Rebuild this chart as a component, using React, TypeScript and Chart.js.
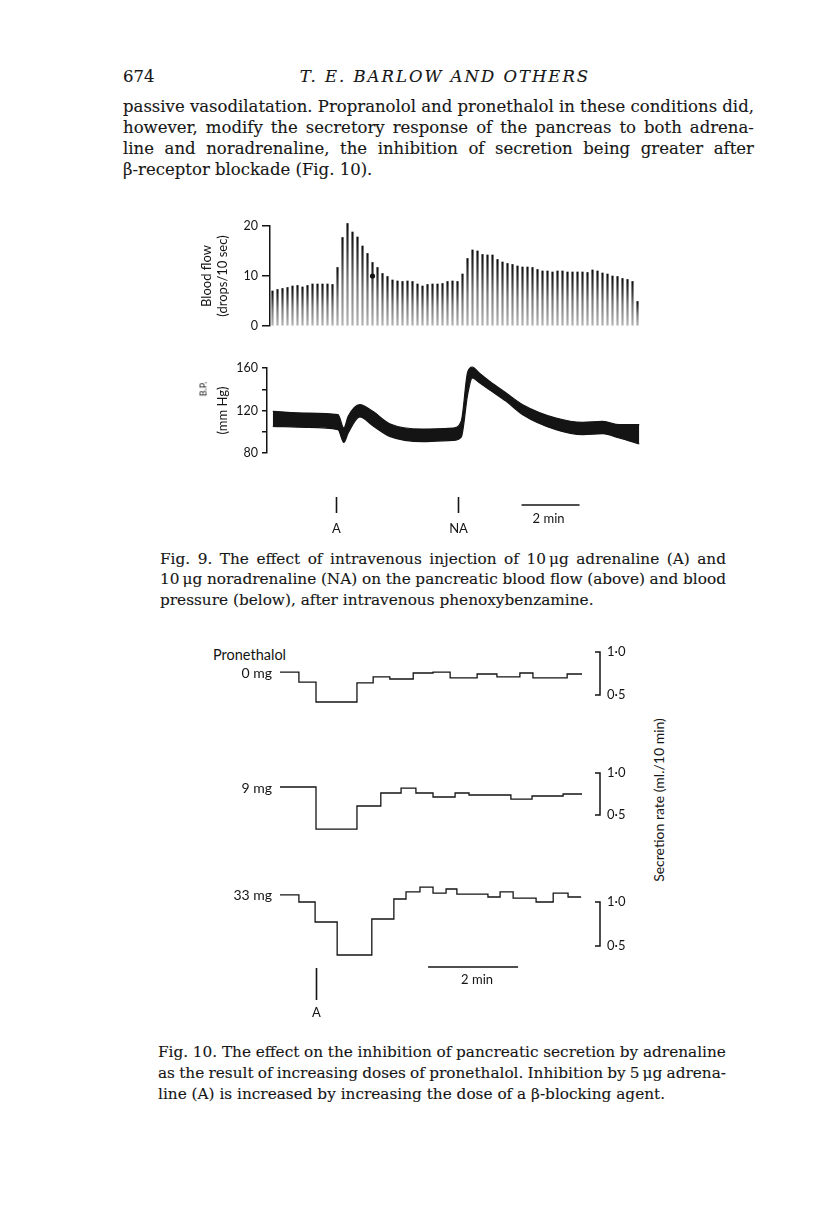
import React, { useEffect, useRef } from 'react';
import { Chart, registerables } from 'chart.js';

Chart.register(...registerables);

const INK = '#141414';
const SERIF = '"DejaVu Serif", "Liberation Serif", serif';
const SANS = 'Lato, "Open Sans", sans-serif';

// ---------------- Fig. 9 : blood flow (drops / 10 sec), one value per drop-counter stroke
const FLOW_VALUES = [
  7.0, 7.3, 7.5, 7.7, 8.0, 8.1, 7.8, 8.1, 8.4, 8.4,
  8.4, 8.4, 8.3, 11.7, 17.7, 20.5, 18.8, 17.8, 16.0, 14.5,
  12.7, 11.7, 10.5, 9.9, 9.2, 9.0, 8.9, 9.0, 8.9, 8.4,
  8.0, 8.3, 8.4, 8.4, 8.5, 8.9, 9.0, 8.9, 10.4, 13.5,
  15.2, 15.0, 14.3, 14.2, 14.2, 13.3, 12.8, 12.5, 12.3, 12.0,
  11.8, 11.8, 11.7, 11.3, 11.0, 11.0, 10.8, 11.0, 11.0, 10.8,
  10.8, 10.8, 10.8, 10.7, 11.2, 11.0, 10.6, 10.4, 10.0, 9.9,
  9.5, 9.3, 8.9, 4.9,
];
const FLOW_DOT = [{ x: 20, y: 10 }];
const FLOW_TICKS = [0, 10, 20];

// ---------------- Fig. 9 : blood pressure envelope (mm Hg) vs time (min)
const BP_TIME = [0, 1.16, 2.25, 2.45, 2.6, 3.0, 3.45, 4.03, 5.18, 6.21, 6.5, 6.72, 6.88, 7.13, 7.5, 8.05, 8.62, 9.77, 10.69, 11.38, 11.95, 12.64];
const BP_UPPER = [119.2, 117.6, 116.1, 103.5, 114.5, 125.5, 119.2, 107.6, 102.6, 103.5, 110.0, 156.0, 160.9, 155.0, 147.0, 136.5, 125.5, 112.9, 108.9, 109.8, 106.7, 106.7];
const BP_LOWER = [105.1, 104.2, 102.0, 90.0, 98.8, 114.0, 105.7, 95.7, 90.7, 91.9, 95.0, 135.0, 150.6, 146.0, 139.0, 128.6, 116.1, 102.0, 97.3, 98.2, 94.1, 88.5];
const BP_TICKS = [80, 100, 120, 140, 160];
const BP_TICK_LABELS = ['80', '', '120', '', '160'];
const FIG9_INJECTION_TIMES = [2.18, 6.4];
const FIG9_INJECTION_LABELS = ['A', 'NA'];
const FIG9_SCALE_BAR = [8.58, 10.58];

// ---------------- Fig. 10 : secretion rate (ml./10 min), stepped, vs time (min)
const F10_TIME_0 = [0, 0.42, 0.8, 1.71, 2.07, 2.44, 2.96, 3.4, 3.78, 4.38, 4.82, 5.33, 5.62, 6.38, 6.71];
const F10_RATE_0 = [0.767, 0.651, 0.419, 0.64, 0.71, 0.686, 0.756, 0.767, 0.70, 0.744, 0.71, 0.756, 0.70, 0.744, 0.744];
const F10_TIME_9 = [0, 0.8, 1.71, 2.24, 2.69, 3.02, 3.4, 3.89, 4.2, 5.13, 5.6, 6.29, 6.71];
const F10_RATE_9 = [0.833, 0.333, 0.607, 0.762, 0.82, 0.762, 0.714, 0.762, 0.738, 0.69, 0.726, 0.75, 0.75];
const F10_TIME_33 = [0, 0.42, 0.78, 1.27, 2.04, 2.53, 2.8, 3.11, 3.4, 3.69, 3.93, 4.62, 4.89, 5.18, 5.69, 6.07, 6.4, 6.69];
const F10_RATE_33 = [1.08, 1.0, 0.773, 0.398, 0.807, 1.034, 1.114, 1.17, 1.10, 1.148, 1.09, 1.057, 1.114, 1.045, 1.0, 1.10, 1.057, 1.057];
const FIG10_DOSES = ['0 mg', '9 mg', '33 mg'];
const BRACKET_TICKS = [0.5, 1.0];
const BRACKET_LABELS = ['0·5', '1·0'];
const FIG10_INJECTION_TIMES = [0.8];
const FIG10_INJECTION_LABELS = ['A'];
const FIG10_SCALE_BAR = [3.29, 5.29];

// ---------------- page text
const BODY_LINES = [
  'passive vasodilatation. Propranolol and pronethalol in these conditions did,',
  'however, modify the secretory response of the pancreas to both adrena-',
  'line and noradrenaline, the inhibition of secretion being greater after',
  'β-receptor blockade (Fig. 10).',
];
const FIG9_CAPTION = [
  'Fig. 9. The effect of intravenous injection of 10\u2009μg adrenaline (A) and',
  '10\u2009μg noradrenaline (NA) on the pancreatic blood flow (above) and blood',
  'pressure (below), after intravenous phenoxybenzamine.',
];
const FIG10_CAPTION = [
  'Fig. 10. The effect on the inhibition of pancreatic secretion by adrenaline',
  'as the result of increasing doses of pronethalol. Inhibition by 5\u2009μg adrena-',
  'line (A) is increased by increasing the dose of a β-blocking agent.',
];

function ChartBox({ left, top, width, height, config }: any) {
  const ref = useRef<HTMLCanvasElement | null>(null);
  useEffect(() => {
    const chart = new Chart(ref.current as HTMLCanvasElement, config());
    return () => chart.destroy();
  }, []);
  return (
    <canvas
      ref={ref}
      width={width}
      height={height}
      style={{ position: 'absolute', left, top, width, height }}
    />
  );
}

const baseOptions = {
  responsive: false,
  animation: false as const,
  events: [] as any[],
  plugins: { legend: { display: false }, tooltip: { enabled: false } },
};

function flowConfig() {
  return {
    type: 'bar',
    data: {
      datasets: [
        {
          type: 'scatter',
          data: FLOW_DOT,
          pointRadius: 2.6,
          backgroundColor: INK,
          borderWidth: 0,
          clip: false,
          order: 0,
        },
        {
          type: 'bar',
          data: FLOW_VALUES.map((v, i) => ({ x: i, y: v })),
          // pen stroke: dark at its tip, fading towards the base line
          backgroundColor: (c: any) => {
            const ch = c.chart;
            const a = ch.chartArea;
            const v = c.parsed ? c.parsed.y : null;
            if (!a || v == null) return INK;
            const top = ch.scales.y.getPixelForValue(v);
            const g = ch.ctx.createLinearGradient(0, a.bottom, 0, top);
            g.addColorStop(0, '#b5b5b5');
            g.addColorStop(0.45, '#7a7a7a');
            g.addColorStop(0.75, '#3a3a3a');
            g.addColorStop(1, '#0e0e0e');
            return g;
          },
          barThickness: 1.5,
          clip: false,
          order: 1,
        },
      ],
    },
    options: {
      ...baseOptions,
      layout: { padding: { top: 12, bottom: 12, right: 12, left: 0 } },
      scales: {
        x: { type: 'linear', display: false, offset: false, min: -0.5, max: FLOW_VALUES.length - 0.5 },
        y: {
          min: 0,
          max: 20,
          afterFit: (s: any) => { s.width = 78; },
          afterBuildTicks: (s: any) => { s.ticks = FLOW_TICKS.map((v) => ({ value: v })); },
          grid: { drawOnChartArea: false, drawTicks: true, tickLength: 8, color: INK, lineWidth: 1.5 },
          border: { display: true, color: INK, width: 1.5 },
          ticks: { padding: 4, color: INK, font: { family: SANS, size: 12.5 } },
          title: {
            display: true,
            text: ['Blood flow', '(drops/10 sec)'],
            color: INK,
            font: { family: SANS, size: 13 },
            padding: { top: 7, bottom: 0 },
          },
        },
      },
    },
  };
}

const fig9Markers = {
  id: 'fig9Markers',
  afterDraw(chart: any) {
    const { ctx, chartArea, scales } = chart;
    const x = scales.x;
    const b = chartArea.bottom;
    ctx.save();
    ctx.strokeStyle = INK;
    ctx.fillStyle = INK;
    ctx.lineWidth = 1.6;
    ctx.font = `13px ${SANS}`;
    ctx.textAlign = 'center';
    ctx.textBaseline = 'middle';
    FIG9_INJECTION_TIMES.forEach((t, i) => {
      const px = Math.round(x.getPixelForValue(t)) + 0.5;
      ctx.beginPath();
      ctx.moveTo(px, b + 44);
      ctx.lineTo(px, b + 60);
      ctx.stroke();
      ctx.fillText(FIG9_INJECTION_LABELS[i], px, b + 76);
    });
    const x0 = x.getPixelForValue(FIG9_SCALE_BAR[0]);
    const x1 = x.getPixelForValue(FIG9_SCALE_BAR[1]);
    ctx.lineWidth = 1.3;
    ctx.beginPath();
    ctx.moveTo(x0, b + 52);
    ctx.lineTo(x1, b + 52);
    ctx.stroke();
    ctx.fillText('2 min', (x0 + x1) / 2 - 2, b + 65.5);
    ctx.restore();
  },
};

function bpConfig() {
  const common = {
    borderColor: INK,
    borderWidth: 1.2,
    pointRadius: 0,
    cubicInterpolationMode: 'monotone',
    clip: false,
  };
  return {
    type: 'line',
    data: {
      datasets: [
        { ...common, data: BP_TIME.map((t, i) => ({ x: t, y: BP_UPPER[i] })), fill: false },
        { ...common, data: BP_TIME.map((t, i) => ({ x: t, y: BP_LOWER[i] })), fill: '-1', backgroundColor: INK },
      ],
    },
    options: {
      ...baseOptions,
      layout: { padding: { top: 12, bottom: 87, right: 11, left: 0 } },
      scales: {
        x: { type: 'linear', display: false, min: -0.2, max: 12.7 },
        y: {
          min: 80,
          max: 160,
          afterFit: (s: any) => { s.width = 75; },
          afterBuildTicks: (s: any) => { s.ticks = BP_TICKS.map((v) => ({ value: v })); },
          grid: { drawOnChartArea: false, drawTicks: true, tickLength: 5, color: INK, lineWidth: 1.5 },
          border: { display: true, color: INK, width: 1.5 },
          ticks: {
            padding: 4,
            color: INK,
            font: { family: SANS, size: 12.5 },
            callback: (_v: any, i: number) => BP_TICK_LABELS[i],
          },
          title: {
            display: true,
            text: '(mm Hg)',
            color: INK,
            font: { family: SANS, size: 13 },
            padding: { top: 23, bottom: 0 },
          },
        },
      },
    },
    plugins: [fig9Markers],
  };
}

function fig10Config(times: number[], rates: number[], dose: string, yMin: number, yMax: number, padBottom: number, withMarkers: boolean) {
  const deco = {
    id: 'fig10Deco',
    afterDraw(chart: any) {
      const { ctx, chartArea, scales } = chart;
      const x = scales.x;
      const y = scales.y;
      ctx.save();
      ctx.strokeStyle = INK;
      ctx.fillStyle = INK;
      // scale bracket  ]
      const bx = chartArea.right + 18;
      const yHi = y.getPixelForValue(BRACKET_TICKS[1]);
      const yLo = y.getPixelForValue(BRACKET_TICKS[0]);
      ctx.lineWidth = 1.5;
      ctx.beginPath();
      ctx.moveTo(bx - 5, yHi);
      ctx.lineTo(bx, yHi);
      ctx.lineTo(bx, yLo);
      ctx.lineTo(bx - 5, yLo);
      ctx.stroke();
      // dose label
      ctx.font = `14px ${SANS}`;
      ctx.textAlign = 'right';
      ctx.textBaseline = 'middle';
      ctx.fillText(dose, chartArea.left - 8, y.getPixelForValue(rates[0]) + 1);
      if (withMarkers) {
        const b = chartArea.bottom;
        ctx.textAlign = 'center';
        ctx.font = `13px ${SANS}`;
        FIG10_INJECTION_TIMES.forEach((t, i) => {
          const px = Math.round(x.getPixelForValue(t)) + 0.5;
          ctx.lineWidth = 1.6;
          ctx.beginPath();
          ctx.moveTo(px, b + 8);
          ctx.lineTo(px, b + 40);
          ctx.stroke();
          ctx.fillText(FIG10_INJECTION_LABELS[i], px, b + 53);
        });
        const x0 = x.getPixelForValue(FIG10_SCALE_BAR[0]);
        const x1 = x.getPixelForValue(FIG10_SCALE_BAR[1]);
        ctx.lineWidth = 1.3;
        ctx.beginPath();
        ctx.moveTo(x0, b + 7);
        ctx.lineTo(x1, b + 7);
        ctx.stroke();
        ctx.fillText('2 min', (x0 + x1) / 2 + 4, b + 20);
      }
      ctx.restore();
    },
  };
  return {
    type: 'line',
    data: {
      datasets: [
        {
          data: times.map((t, i) => ({ x: t, y: rates[i] })),
          stepped: true,
          borderColor: INK,
          borderWidth: 1.3,
          pointRadius: 0,
          fill: false,
          clip: false,
        },
      ],
    },
    options: {
      ...baseOptions,
      layout: { padding: { top: 10, bottom: padBottom, left: 80, right: 10 } },
      scales: {
        x: { type: 'linear', display: false, min: 0, max: 6.71 },
        y: {
          position: 'right',
          min: yMin,
          max: yMax,
          afterFit: (s: any) => { s.width = 50; },
          afterBuildTicks: (s: any) => { s.ticks = BRACKET_TICKS.map((v) => ({ value: v })); },
          grid: { display: false, drawTicks: true, tickLength: 23 },
          border: { display: false },
          ticks: {
            padding: 2,
            color: INK,
            font: { family: SANS, size: 13 },
            callback: (_v: any, i: number) => BRACKET_LABELS[i],
          },
        },
      },
    },
    plugins: [deco],
  };
}

function TextLine({ text, left, top, width, size, lh, justify, italic, center, spacing }: any) {
  const style: any = {
    position: 'absolute',
    left,
    top,
    width,
    height: lh,
    lineHeight: `${lh}px`,
    fontSize: size,
    fontFamily: SERIF,
    fontStyle: italic ? 'italic' : 'normal',
    letterSpacing: spacing ? `${spacing}px` : 'normal',
    color: '#161616',
    WebkitTextStroke: '0.12px #161616',
    whiteSpace: 'nowrap',
    textAlign: center ? 'center' : 'left',
  };
  if (!justify) return <div style={style}>{text}</div>;
  return (
    <div style={{ ...style, display: 'flex', justifyContent: 'space-between' }}>
      {text.split(' ').map((w: string, i: number) => (
        <span key={i}>{w}</span>
      ))}
    </div>
  );
}

function Rotated({ text, cx, cy, size }: any) {
  return (
    <div
      style={{
        position: 'absolute',
        left: cx,
        top: cy,
        transform: 'translate(-50%, -50%) rotate(-90deg)',
        whiteSpace: 'nowrap',
        fontFamily: SANS,
        fontSize: size,
        color: INK,
        lineHeight: 1,
      }}
    >
      {text}
    </div>
  );
}

export default function App() {
  return (
    <div style={{ position: 'absolute', left: 0, top: 0, width: 816, height: 1227, background: '#fff', overflow: 'hidden' }}>
      {/* running head */}
      <TextLine text="674" left={123} top={66} width={60} size={16.5} lh={21} />
      <TextLine text="T. E. BARLOW  AND  OTHERS" left={290} top={66} width={310} size={16.5} lh={21} italic center spacing={2} />

      {/* body text */}
      {BODY_LINES.map((t, i) => (
        <TextLine key={i} text={t} left={123} top={96 + i * 21} width={631} size={16.5} lh={21} justify={i < BODY_LINES.length - 1} />
      ))}

      {/* Fig. 9 */}
      <ChartBox left={192} top={214} width={460} height={124} config={flowConfig} />
      <ChartBox left={192} top={356} width={460} height={184} config={bpConfig} />
      <Rotated text="B.P." cx={203} cy={389} size={9} />
      {FIG9_CAPTION.map((t, i) => (
        <TextLine key={i} text={t} left={160} top={548.5 + i * 20.5} width={566} size={15.3} lh={20.5} justify={i < FIG9_CAPTION.length - 1} />
      ))}

      {/* Fig. 10 */}
      <div style={{ position: 'absolute', left: 213, top: 646, fontFamily: SANS, fontSize: 14.5, color: INK, lineHeight: '18px' }}>Pronethalol</div>
      <ChartBox left={200} top={632} width={442} height={88} config={() => fig10Config(F10_TIME_0, F10_RATE_0, FIG10_DOSES[0], 0.326, 1.116, 10, false)} />
      <ChartBox left={200} top={755} width={442} height={90} config={() => fig10Config(F10_TIME_9, F10_RATE_9, FIG10_DOSES[1], 0.262, 1.095, 10, false)} />
      <ChartBox left={200} top={870} width={442} height={155} config={() => fig10Config(F10_TIME_33, F10_RATE_33, FIG10_DOSES[2], 0.341, 1.25, 65, true)} />
      <Rotated text="Secretion rate (ml./10 min)" cx={659} cy={800} size={14} />
      {FIG10_CAPTION.map((t, i) => (
        <TextLine key={i} text={t} left={158} top={1042 + i * 21} width={568} size={15.3} lh={20.5} justify={i < FIG10_CAPTION.length - 1} />
      ))}
    </div>
  );
}
